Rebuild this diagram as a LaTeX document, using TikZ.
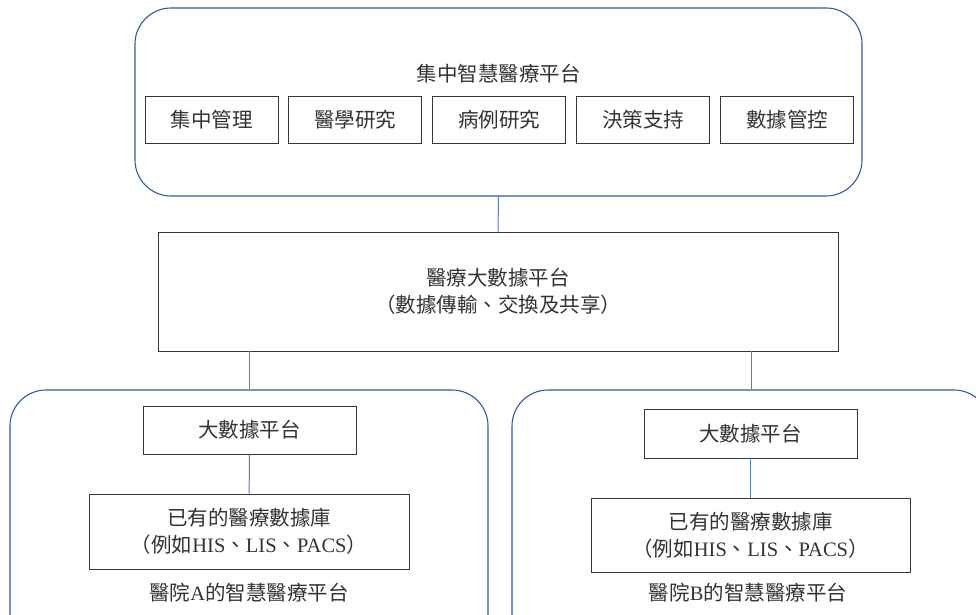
\documentclass[tikz,border=0pt]{standalone}
\usepackage{fontspec}
\setmainfont{Liberation Serif}
\newfontfamily\cjk{Noto Sans CJK TC}
\usepackage{tikz}
\usetikzlibrary{positioning}
\definecolor{frameblue}{RGB}{52,90,158}
\definecolor{linkblue}{RGB}{84,125,198}
\definecolor{boxgray}{RGB}{55,55,55}

\begin{document}
\begin{tikzpicture}[x=1pt, y=-1pt,
    every node/.style={font=\cjk\fontsize{20.5}{27}\selectfont, text=black!80, align=center, inner sep=0pt},
    platform/.style={draw=frameblue, line width=1.1pt, rounded corners=36pt, rectangle},
    module/.style={draw=boxgray, line width=0.9pt, rectangle, minimum height=47pt},
    link/.style={draw=linkblue, line width=1pt}]

  \clip (0,0) rectangle (976,615);
  \fill[white] (0,0) rectangle (976,615);

  % central platform
  \node[platform, minimum width=727pt, minimum height=188pt] (central) at (498.5,102) {};
  \node (centraltitle) at (498.5,74) {集中智慧醫療平台};
  \node[module, minimum width=133pt] (mgmt) at (211.5,119.5) {集中管理};
  \node[module, minimum width=133pt, right=10pt of mgmt] (medres) {醫學研究};
  \node[module, minimum width=133pt, right=10pt of medres] (caseres) {病例研究};
  \node[module, minimum width=133pt, right=10pt of caseres] (decision) {決策支持};
  \node[module, minimum width=133pt, right=10pt of decision] (datactl) {數據管控};

  % big data exchange
  \node[module, minimum width=680pt, minimum height=119pt] (exchange) at (498,291.5) {醫療大數據平台\\（數據傳輸、交換及共享）};

  % hospital platforms
  \node[platform, minimum width=478pt, minimum height=280pt] (hospA) at (249,530) {};
  \node[platform, minimum width=478pt, minimum height=280pt] (hospB) at (751,530) {};

  \node[module, minimum width=213pt, minimum height=48pt] (bigA) at (249.5,430) {大數據平台};
  \node[module, minimum width=320pt, minimum height=75pt] (dbA) at (249,531.5) {已有的醫療數據庫\\（例如{\rmfamily HIS}、{\rmfamily LIS}、{\rmfamily PACS}）};
  \node (labelA) at (249,593) {醫院{\rmfamily A}的智慧醫療平台};

  \node[module, minimum width=213pt, minimum height=49pt] (bigB) at (750.5,433.5) {大數據平台};
  \node[module, minimum width=319pt, minimum height=74pt] (dbB) at (750.5,535) {已有的醫療數據庫\\（例如{\rmfamily HIS}、{\rmfamily LIS}、{\rmfamily PACS}）};
  \node (labelB) at (748,593) {醫院{\rmfamily B}的智慧醫療平台};

  % connectors
  \draw[link] (central.south) -- (exchange.north);
  \draw[link] (exchange.south -| hospA.north) -- (hospA.north);
  \draw[link] (exchange.south -| hospB.north) -- (hospB.north);
  \draw[link] (bigA) -- (dbA);
  \draw[link] (bigB) -- (dbB);
\end{tikzpicture}
\end{document}
